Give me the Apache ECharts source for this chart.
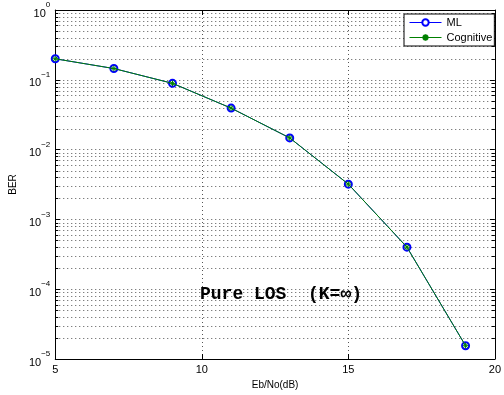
<!DOCTYPE html>
<html>
<head>
<meta charset="utf-8">
<script src="https://cdn.jsdelivr.net/npm/echarts@6/dist/echarts.min.js"></script>
<style>
  html, body { margin: 0; padding: 0; background: #fff; }
  #chart { width: 504px; height: 395px; }
</style>
</head>
<body>
<div id="chart"></div>
<script>
// 数据
var snr = [5, 7, 9, 11, 13, 15, 17, 19];
var berML = [0.2, 0.145, 0.089, 0.0393, 0.0147, 0.0032, 0.0004, 1.55e-5];
var berCognitive = [0.2, 0.145, 0.089, 0.0393, 0.0147, 0.0032, 0.0004, 1.55e-5];
var decades = [-5, -4, -3, -2, -1];
var minorSteps = [2, 3, 4, 5, 6, 7, 8, 9];

var font = 'Liberation Sans';

// 对数轴的次网格线 2..9 x 10^k
var minorValues = [];
decades.forEach(function (d) {
  minorSteps.forEach(function (m) {
    minorValues.push(m * Math.pow(10, d));
  });
});

var gridLine = { color: '#555', width: 1, type: [1, 3] };
var asterisk = 'path://M5,0 L5,10 M0,5 L10,5 M1.5,1.5 L8.5,8.5 M8.5,1.5 L1.5,8.5';

var annotation = {
  type: 'text',
  left: 200,
  top: 285,
  z: 100,
  style: {
    text: 'Pure LOS  (K=\u221e)',
    font: 'bold 18px "Liberation Mono"',
    fill: '#000'
  }
};

var myChart = echarts.init(document.getElementById('chart'));

var option = {
  animation: false,
  textStyle: { fontFamily: font },
  grid: { left: 52, right: 5, top: 10, bottom: 33 },
  legend: {
    data: ['ML', 'Cognitive'],
    orient: 'vertical',
    left: 404,
    top: 14,
    padding: [3, 2, 3, 5],
    itemGap: 4,
    itemWidth: 32,
    itemHeight: 8,
    backgroundColor: '#fff',
    borderColor: '#000',
    borderWidth: 1,
    borderRadius: 0,
    lineStyle: { width: 1 },
    textStyle: { fontFamily: font, fontSize: 11, color: '#000' }
  },
  graphic: [annotation],
  xAxis: [{
    type: 'value',
    min: 5,
    max: 20,
    interval: 5,
    name: 'Eb/No(dB)',
    nameLocation: 'middle',
    nameGap: 21,
    nameTextStyle: { fontFamily: font, fontSize: 10, color: '#000' },
    axisLine: { lineStyle: { color: '#000', width: 1 } },
    axisTick: { inside: true, length: 5, lineStyle: { color: '#000' } },
    axisLabel: { fontFamily: font, fontSize: 11, color: '#000', margin: 5 },
    splitLine: { show: true, lineStyle: gridLine }
  }, {
    type: 'value',
    position: 'top',
    min: 5,
    max: 20,
    interval: 5,
    axisLine: { show: true, onZero: false, lineStyle: { color: '#000', width: 1 } },
    axisTick: { show: true, inside: true, length: 5, lineStyle: { color: '#000' } },
    axisLabel: { show: false },
    splitLine: { show: false }
  }],
  yAxis: [{
    type: 'log',
    logBase: 10,
    min: 1e-5,
    max: 1,
    splitNumber: 5,
    name: 'BER',
    nameLocation: 'middle',
    nameGap: 33,
    nameTextStyle: { fontFamily: font, fontSize: 10, color: '#000' },
    axisLine: { show: true, lineStyle: { color: '#000', width: 1 } },
    axisTick: { show: true, inside: true, length: 5, lineStyle: { color: '#000' } },
    axisLabel: {
      margin: 5,
      formatter: function (v) {
        var e = Math.round(Math.log10(v));
        return '{b|10}{s|' + (e === 0 ? '0' : '\u2212' + Math.abs(e)) + '}';
      },
      rich: {
        b: { fontFamily: font, fontSize: 11, color: '#000', verticalAlign: 'bottom', lineHeight: 18 },
        s: { fontFamily: font, fontSize: 8, color: '#000', verticalAlign: 'top', lineHeight: 18 }
      }
    },
    splitLine: { show: true, lineStyle: gridLine }
  }, {
    type: 'log',
    logBase: 10,
    min: 1e-5,
    max: 1,
    splitNumber: 5,
    position: 'right',
    axisLine: { show: true, lineStyle: { color: '#000', width: 1 } },
    axisTick: { show: true, inside: true, length: 5, lineStyle: { color: '#000' } },
    axisLabel: { show: false },
    splitLine: { show: false }
  }],
  series: [{
    name: 'ML',
    type: 'line',
    data: snr.map(function (x, i) { return [x, berML[i]]; }),
    symbol: 'emptyCircle',
    symbolSize: 7,
    lineStyle: { color: '#0000ff', width: 1 },
    itemStyle: { color: '#0000ff', borderWidth: 1 },
    z: 4
  }, {
    name: 'Cognitive',
    type: 'line',
    data: snr.map(function (x, i) { return [x, berCognitive[i]]; }),
    symbol: asterisk,
    symbolSize: 6,
    lineStyle: { color: '#008000', width: 1 },
    itemStyle: { color: '#008000', borderColor: '#008000', borderWidth: 1 },
    z: 5
  }]
};

myChart.setOption(option);

// 次网格线和次刻度: 通过坐标轴换算位置, 对齐到像素
var xLeft = myChart.convertToPixel({ xAxisIndex: 0 }, 5);
var xRight = myChart.convertToPixel({ xAxisIndex: 0 }, 20);
var extra = [annotation];
minorValues.forEach(function (v) {
  var y = Math.round(myChart.convertToPixel({ yAxisIndex: 0 }, v)) + 0.5;
  extra.push({
    type: 'line', silent: true, z: 0,
    shape: { x1: xLeft, y1: y, x2: xRight, y2: y },
    style: { stroke: gridLine.color, lineWidth: 1, lineDash: [1, 3] }
  });
  extra.push({
    type: 'line', silent: true, z: 1,
    shape: { x1: xLeft, y1: y, x2: xLeft + 3, y2: y },
    style: { stroke: '#000', lineWidth: 1 }
  });
  extra.push({
    type: 'line', silent: true, z: 1,
    shape: { x1: xRight - 3, y1: y, x2: xRight, y2: y },
    style: { stroke: '#000', lineWidth: 1 }
  });
});
myChart.setOption({ graphic: extra });
</script>
</body>
</html>
